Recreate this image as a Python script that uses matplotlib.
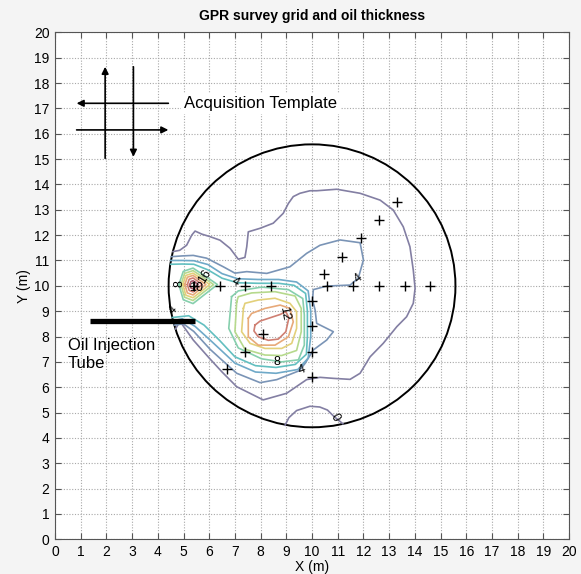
import matplotlib
matplotlib.use("Agg")
import matplotlib.pyplot as plt
from matplotlib.patches import Circle

plt.rcParams['font.family'] = ['Liberation Sans', 'DejaVu Sans']

# GPR shot points (+)
shot_x = [5.4, 6.4, 7.4, 8.4, 10.6, 11.6, 12.6, 13.6, 14.6,
          10.0, 10.0, 10.0, 10.0,
          10.45, 11.15, 11.9, 12.6, 13.3,
          8.1, 7.4, 6.7]
shot_y = [10.0, 10.0, 10.0, 10.0, 10.0, 10.0, 10.0, 10.0, 10.0,
          9.4, 8.4, 7.4, 6.4,
          10.45, 11.15, 11.9, 12.6, 13.3,
          8.1, 7.4, 6.7]

# tank outline
tank_x, tank_y, tank_r = 10.0, 10.0, 5.58

# injection tube
tube_x = [1.36, 5.45]
tube_y = [8.62, 8.62]

# oil thickness contour lines
outer0_x = [4.59, 4.85, 5.12, 5.32, 5.45, 5.71, 6.03, 6.42, 6.81, 7.13, 7.39, 7.46, 7.52, 7.98, 8.49,
            8.88, 9.08, 9.27, 9.53, 9.92, 10.18, 10.96, 11.87, 12.65, 13.16, 13.55, 13.81, 13.94,
            14.01, 13.94, 13.68, 13.3, 12.77, 12.26, 11.87, 11.48, 10.83, 10.31, 9.79, 9.01, 8.1,
            7.07, 6.5, 6.0, 5.38, 4.86, 4.69]
outer0_y = [11.35, 11.4, 11.6, 12.0, 12.16, 12.04, 11.94, 11.8, 11.48, 11.05, 11.12, 11.54, 12.13,
            12.27, 12.47, 12.86, 13.25, 13.52, 13.65, 13.75, 13.75, 13.81, 13.65, 13.38, 12.99,
            12.33, 11.54, 10.62, 9.9, 9.31, 8.78, 8.39, 7.73, 7.2, 6.55, 6.31, 6.35, 6.39, 6.3,
            5.76, 5.5, 6.02, 6.6, 7.15, 7.86, 8.6, 8.3]
bottom0_x = [8.95, 9.1, 9.4, 9.92, 10.3, 10.6, 10.85, 11.2]
bottom0_y = [4.5, 4.8, 5.08, 5.25, 5.22, 5.1, 4.85, 4.56]
c4_x = [4.52, 4.95, 5.38, 5.9, 6.55, 7.0, 7.46, 8.24, 9.14, 9.79, 10.31, 11.09, 11.87, 12.0, 11.8,
        11.48, 10.57, 10.05, 10.02, 10.12, 10.18, 10.83, 10.57, 10.05, 9.73, 9.5, 8.63, 7.98,
        7.07, 6.42, 6.03, 5.4, 5.0, 4.64]
c4_y = [11.15, 11.18, 11.2, 11.09, 10.75, 10.5, 10.56, 10.49, 10.75, 11.28, 11.6, 11.81, 11.7,
        11.02, 10.3, 10.03, 9.99, 9.85, 9.44, 9.05, 8.52, 8.19, 7.86, 7.47, 6.94, 6.65, 6.3,
        6.18, 6.55, 7.14, 7.5, 8.2, 8.5, 8.45]
c6_x = [4.5, 4.95, 5.4, 5.95, 6.5, 7.1, 7.9, 8.7, 9.4, 9.85, 9.95, 9.95, 9.85, 9.45, 8.6, 7.8,
        7.0, 6.1, 5.45, 4.95, 4.6]
c6_y = [11.0, 11.0, 10.99, 10.84, 10.48, 10.28, 10.25, 10.25, 10.15, 9.8, 9.0, 8.0, 7.15, 6.7,
        6.55, 6.6, 6.95, 7.8, 8.4, 8.7, 8.62]
c8_x = [4.5, 4.95, 5.4, 5.95, 6.5, 7.1, 7.9, 8.7, 9.3, 9.75, 9.82, 9.82, 9.78, 9.35, 8.6, 7.8,
        7.0, 6.4, 5.8, 5.2, 4.56]
c8_y = [10.85, 10.86, 10.85, 10.63, 10.3, 10.12, 10.1, 10.1, 10.02, 9.7, 9.0, 8.0, 7.3, 6.9,
        6.78, 6.85, 7.2, 7.85, 8.45, 8.82, 8.75]

# central spot rings
c10_x = [6.87, 6.76, 7.13, 8.04, 8.82, 9.47, 9.7, 9.7, 9.64, 9.08, 8.04, 7.13, 6.87]
c10_y = [9.57, 8.32, 7.55, 7.12, 7.0, 7.08, 7.66, 8.85, 9.5, 9.85, 9.95, 9.8, 9.57]
c12_x = [7.07, 7.0, 7.39, 8.17, 8.82, 9.4, 9.58, 9.58, 9.34, 8.56, 7.65, 7.13, 7.07]
c12_y = [9.37, 8.19, 7.5, 7.27, 7.25, 7.45, 8.19, 9.11, 9.6, 9.77, 9.72, 9.57, 9.37]
c14_x = [7.33, 7.26, 7.59, 8.17, 8.82, 9.21, 9.4, 9.4, 9.14, 8.56, 7.91, 7.39, 7.33]
c14_y = [9.11, 8.19, 7.73, 7.53, 7.53, 7.73, 8.32, 8.98, 9.31, 9.51, 9.44, 9.31, 9.11]
c16_x = [7.52, 7.52, 7.91, 8.56, 9.08, 9.27, 9.14, 8.76, 8.17, 7.65, 7.52]
c16_y = [8.72, 7.99, 7.66, 7.66, 7.99, 8.58, 9.11, 9.24, 9.11, 8.91, 8.72]
c18_x = [7.78, 7.98, 8.37, 8.76, 8.98, 9.1, 8.98, 8.69, 8.3, 7.91, 7.74, 7.78]
c18_y = [8.45, 8.61, 8.74, 8.87, 8.98, 8.74, 8.19, 7.9, 7.85, 7.99, 8.22, 8.45]

# rings round the injection point
l10_x = [4.82, 4.99, 5.37, 5.85, 6.32, 5.85, 5.37, 4.99, 4.82]
l10_y = [10.05, 10.57, 10.70, 10.38, 10.05, 9.68, 9.30, 9.45, 10.05]
l12_x = [4.90, 5.04, 5.37, 5.77, 6.17, 5.77, 5.37, 5.04, 4.90]
l12_y = [10.05, 10.49, 10.60, 10.33, 10.05, 9.74, 9.42, 9.55, 10.05]
l14_x = [4.97, 5.09, 5.37, 5.70, 6.02, 5.70, 5.37, 5.09, 4.97]
l14_y = [10.05, 10.41, 10.50, 10.28, 10.05, 9.79, 9.53, 9.63, 10.05]
l16_x = [5.05, 5.15, 5.37, 5.62, 5.87, 5.62, 5.37, 5.15, 5.05]
l16_y = [10.05, 10.34, 10.41, 10.23, 10.05, 9.85, 9.64, 9.72, 10.05]
l18_x = [5.15, 5.22, 5.37, 5.55, 5.73, 5.55, 5.37, 5.22, 5.15]
l18_y = [10.05, 10.26, 10.31, 10.18, 10.05, 9.91, 9.76, 9.82, 10.05]
l20_x = [5.25, 5.29, 5.37, 5.47, 5.57, 5.47, 5.37, 5.29, 5.25]
l20_y = [10.05, 10.17, 10.20, 10.13, 10.05, 9.97, 9.88, 9.91, 10.05]

contours = [
    (0, outer0_x, outer0_y), (0, bottom0_x, bottom0_y),
    (4, c4_x, c4_y), (6, c6_x, c6_y), (8, c8_x, c8_y),
    (10, c10_x, c10_y), (12, c12_x, c12_y), (14, c14_x, c14_y),
    (16, c16_x, c16_y), (18, c18_x, c18_y),
    (10, l10_x, l10_y), (12, l12_x, l12_y), (14, l14_x, l14_y),
    (16, l16_x, l16_y), (18, l18_x, l18_y), (20, l20_x, l20_y),
]
level_colors = {0: '#837fa3', 4: '#7a94b6', 6: '#6fa9c8', 8: '#62bfc0', 10: '#86cfad',
                12: '#b6d98d', 14: '#e3d07a', 16: '#e7a979', 18: '#cf7f72', 20: '#a8566a'}

# clabel texts
label_text = ['0', '4', '4', '4', '4', '8', '12', '8', '10', '16']
label_x = [10.9, 9.6, 11.8, 7.0, 4.6, 8.63, 8.9, 4.85, 5.5, 5.85]
label_y = [4.8, 6.68, 10.3, 10.15, 9.05, 7.0, 8.9, 10.1, 9.92, 10.38]
label_rot = [-60, 20, 40, -30, 45, 0, -80, 90, 0, 60]

# acquisition template arrows (start -> head)
arrow_x0 = [1.95, 3.05, 4.41, 0.84]
arrow_y0 = [15.03, 18.64, 17.2, 16.15]
arrow_x1 = [1.95, 3.05, 0.84, 4.41]
arrow_y1 = [18.64, 15.09, 17.2, 16.15]

fig = plt.figure(figsize=(5.81, 5.74), dpi=100, facecolor='#f4f4f4')
ax = fig.add_axes([0.0947, 0.0604, 0.8847, 0.8833])
ax.set_facecolor('white')

ax.set_xlim(0, 20)
ax.set_ylim(0, 20)
ax.set_xticks(range(0, 21))
ax.set_yticks(range(0, 21))
ax.grid(True, color='#a8a8a8', linestyle=(0, (1, 1.5)), linewidth=0.8)
ax.set_axisbelow(True)
ax.tick_params(direction='in', top=True, right=True, length=4, labelsize=10, pad=4,
               color='#555555')
for s in ax.spines.values():
    s.set_color('#555555')

for lev, xs, ys in contours:
    ax.plot(xs, ys, color=level_colors[lev], linewidth=1.2)

for t, x, y, r in zip(label_text, label_x, label_y, label_rot):
    ax.text(x, y, t, fontsize=9, rotation=r, ha='center', va='center', color='black')

ax.plot(shot_x, shot_y, '+', color='black', markersize=7, markeredgewidth=1.0)

ax.add_patch(Circle((tank_x, tank_y), tank_r, fill=False, edgecolor='black', linewidth=1.4))

ax.plot(tube_x, tube_y, color='black', linewidth=3.8, solid_capstyle='butt')
ax.text(0.5, 7.95, 'Oil Injection\nTube', fontsize=12, ha='left', va='top', linespacing=1.25)

for x0, y0, x1, y1 in zip(arrow_x0, arrow_y0, arrow_x1, arrow_y1):
    ax.annotate('', xy=(x1, y1), xytext=(x0, y0),
                arrowprops=dict(arrowstyle='-|>', color='black', lw=1.2,
                                mutation_scale=10, shrinkA=0, shrinkB=0))
ax.text(5.02, 17.2, 'Acquisition Template', fontsize=12, ha='left', va='center',
        bbox=dict(facecolor='white', edgecolor='none', pad=2))

ax.set_title('GPR survey grid and oil thickness', fontsize=10, fontweight='bold', pad=9)
ax.set_xlabel('X (m)', fontsize=10, labelpad=0.5)
ax.set_ylabel('Y (m)', fontsize=10, labelpad=2)

fig.savefig('out.png', dpi=100, facecolor=fig.get_facecolor())
